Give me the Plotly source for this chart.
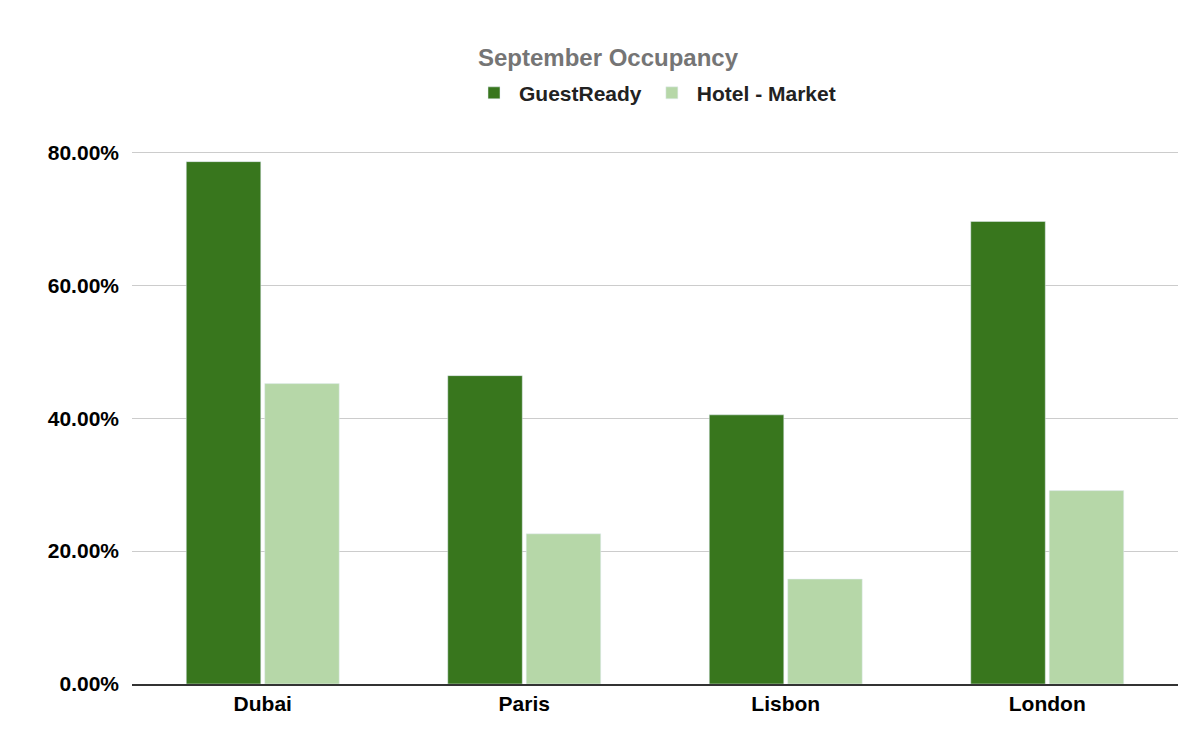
import plotly.graph_objects as go

cities = ["Dubai", "Paris", "Lisbon", "London"]
guestready = [0.786, 0.464, 0.405, 0.696]
hotel_market = [0.452, 0.226, 0.158, 0.291]

fig = go.Figure()
fig.add_trace(go.Bar(x=cities, y=guestready, name="<b>GuestReady</b>", marker_color="#38761d"))
fig.add_trace(go.Bar(x=cities, y=hotel_market, name="<b>Hotel - Market</b>", marker_color="#b6d7a8"))

fig.update_layout(
    width=1200, height=742,
    paper_bgcolor="white", plot_bgcolor="white",
    font=dict(family="Liberation Sans, Arial", size=20, color="#000"),
    title=dict(text="<b>September Occupancy</b>", x=0.5, xanchor="center", y=0.945,
               font=dict(size=24, color="#757575")),
    legend=dict(orientation="h", x=0.5, xanchor="center", y=1.07, yanchor="bottom",
                font=dict(size=21, color="#222"), itemwidth=40),
    margin=dict(l=124, r=30, t=143, b=66),
    bargap=0.4, bargroupgap=0.05,
    xaxis=dict(tickfont=dict(size=21), showline=True, linecolor="#333", linewidth=1.5,
               tickprefix="<b>", ticksuffix="</b>"),
    yaxis=dict(range=[0, 0.802], tickformat=".2%", dtick=0.2, gridcolor="#cccccc",
               zeroline=False, tickfont=dict(size=21), tickprefix="<b>", ticksuffix="</b>",
               ticklabelstandoff=12),
)
fig.write_html("out.html")
